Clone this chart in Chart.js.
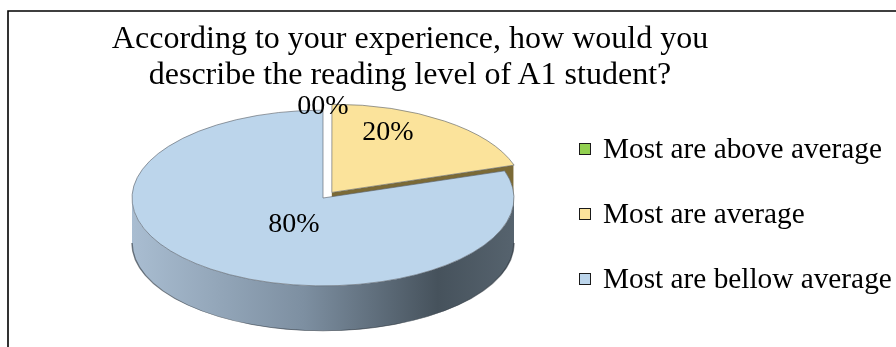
<!DOCTYPE html>
<html>
<head>
<meta charset="utf-8">
<script src="https://cdn.jsdelivr.net/npm/chart.js@4.4.1/dist/chart.umd.min.js"></script>
<style>
  html, body { margin: 0; padding: 0; background: #fff; }
  #stage { position: relative; width: 896px; height: 347px; overflow: hidden; font-family: "Liberation Serif", "Times New Roman", serif; color: #000; }
  #stage canvas { position: absolute; left: 0; top: 0; }
  #title { position: absolute; left: 0; top: 19px; width: 820px; text-align: center; font-size: 32px; line-height: 36px; white-space: nowrap; }
  .legend-item { position: absolute; left: 579px; height: 28px; font-size: 29.3px; line-height: 28px; white-space: nowrap; }
  .legend-box { position: absolute; left: 0; top: 8.5px; width: 10px; height: 10px; border: 1.5px solid #1a1a1a; }
  .legend-text { position: absolute; left: 24px; top: 0; }
</style>
</head>
<body>
<div id="stage">
  <canvas id="myChart" width="896" height="347"></canvas>
  <div id="title"></div>
  <div id="legend"></div>
</div>
<script>
// datos del grafico
const titleLines = ["According to your experience, how would you", "describe the reading level of A1 student?"];
const categories = ["Most are above average", "Most are average", "Most are bellow average"];
const percentValues = [0, 20, 80];
const sliceColors = ["#92d050", "#fbe39b", "#bcd5eb"];
const explodeOffset = [0, 60, 0];

function pctLabel(v) {
  return String(v).padStart(2, "0") + "%";
}

// titulo y leyenda en html
document.querySelector("#title").innerHTML = titleLines.join("<br>");
const legendEl = document.querySelector("#legend");
categories.forEach((name, i) => {
  const item = document.createElement("div");
  item.className = "legend-item";
  item.style.top = (134 + i * 65) + "px";
  item.innerHTML = '<span class="legend-box" style="background:' + sliceColors[i] + '"></span>' +
    '<span class="legend-text">' + name + "</span>";
  legendEl.appendChild(item);
});

// desplazamiento de la porcion separada (igual que ArcElement)
function arcShift(arc) {
  const off = (arc.options.offset || 0) / 4;
  const half = (arc.startAngle + arc.endAngle) / 2;
  return [Math.cos(half) * off, Math.sin(half) * off];
}

/* ------------ plugin pie 3d ---------- */
const pie3d = {
  id: "pie3d",
  beforeDraw(chart) {
    const ctx = chart.ctx;
    ctx.save();
    ctx.strokeStyle = "#000";
    ctx.lineWidth = 1.6;
    ctx.beginPath();
    ctx.moveTo(8, chart.height);
    ctx.lineTo(8, 11);
    ctx.lineTo(chart.width, 11);
    ctx.stroke();
    ctx.restore();
  },
  beforeDatasetsDraw(chart, args, opts) {
    const ctx = chart.ctx;
    const arcs = chart.getDatasetMeta(0).data;
    const cx = arcs[0].x;
    const cy = arcs[0].y;
    const depth = opts.depth / opts.tilt;
    ctx.save();
    ctx.translate(cx, cy);
    ctx.scale(1, opts.tilt);
    ctx.translate(-cx, -cy);

    // caras de corte
    arcs.forEach((arc, i) => {
      const s = arc.startAngle, e = arc.endAngle, R = arc.outerRadius;
      if (e - s <= 0) return;
      const [tx, ty] = arcShift(arc);
      [[s, -1], [e, 1]].forEach(([a, side]) => {
        const ny = side > 0 ? Math.cos(a) : -Math.cos(a);
        if (ny <= 0.01) return;
        const x0 = cx + tx, y0 = cy + ty;
        const x1 = x0 + Math.cos(a) * R, y1 = y0 + Math.sin(a) * R;
        ctx.beginPath();
        ctx.moveTo(x0, y0);
        ctx.lineTo(x1, y1);
        ctx.lineTo(x1, y1 + depth);
        ctx.lineTo(x0, y0 + depth);
        ctx.closePath();
        ctx.fillStyle = opts.cutColors[i];
        ctx.fill();
      });
    });

    // pared exterior (solo la mitad de adelante)
    arcs.forEach((arc, i) => {
      const s = arc.startAngle, e = arc.endAngle, R = arc.outerRadius;
      if (e - s <= 0) return;
      const [tx, ty] = arcShift(arc);
      [-2 * Math.PI, 0, 2 * Math.PI].forEach((k) => {
        const a0 = Math.max(s, k), a1 = Math.min(e, Math.PI + k);
        if (a1 <= a0) return;
        const x0 = cx + tx, y0 = cy + ty;
        const grad = ctx.createLinearGradient(x0 - R, 0, x0 + R, 0);
        opts.wallStops[i].forEach(([p, c]) => grad.addColorStop(p, c));
        ctx.beginPath();
        ctx.arc(x0, y0, R, a0, a1);
        ctx.arc(x0, y0 + depth, R, a1, a0, true);
        ctx.closePath();
        ctx.fillStyle = grad;
        ctx.fill();
        ctx.beginPath();
        ctx.arc(x0, y0 + depth, R, a0, a1);
        ctx.strokeStyle = "rgba(40,48,56,0.6)";
        ctx.lineWidth = 1.5;
        ctx.stroke();
      });
    });
  },
  afterDatasetsDraw(chart, args, opts) {
    const ctx = chart.ctx;
    ctx.restore();
    const arcs = chart.getDatasetMeta(0).data;
    ctx.save();
    ctx.font = "28px 'Liberation Serif'";
    ctx.fillStyle = "#000";
    ctx.textAlign = "center";
    ctx.textBaseline = "middle";
    arcs.forEach((arc, i) => {
      const [tx, ty] = arcShift(arc);
      const mid = (arc.startAngle + arc.endAngle) / 2;
      const r = arc.outerRadius * opts.labelRadius[i];
      const x = arc.x + tx + Math.cos(mid) * r;
      const y = arc.y + (ty + Math.sin(mid) * r) * opts.tilt + opts.labelDy[i];
      ctx.fillText(pctLabel(percentValues[i]), x, y);
    });
    ctx.restore();
  },
};

function renderPie() {
  const ctx = document.querySelector("#myChart").getContext("2d");
  new Chart(ctx, {
    type: "pie",
    data: {
      labels: categories,
      datasets: [
        {
          data: percentValues,
          backgroundColor: sliceColors,
          borderColor: "rgba(90,96,104,0.85)",
          borderWidth: 1,
          offset: explodeOffset,
          clip: false,
        },
      ],
    },
    options: {
      responsive: false,
      animation: false,
      devicePixelRatio: 1,
      radius: 191,
      layout: { padding: { top: 49, bottom: 0, left: 0, right: 250 } },
      events: [],
      plugins: {
        legend: { display: false },
        title: { display: false },
        tooltip: { enabled: false },
        pie3d: {
          tilt: 0.46,
          depth: 45,
          labelRadius: [1.0, 0.5, 0.26],
          labelDy: [-3, -24, 8],
          cutColors: ["#5e8a30", "#7b6a36", "#7f93a7"],
          wallStops: [
            [[0, "#7fb24a"], [1, "#4a6e24"]],
            [[0, "#c9b46a"], [1, "#6e5e2e"]],
            [[0, "#a9bdd1"], [0.45, "#7d8fa1"], [0.8, "#46525c"], [1, "#56636e"]],
          ],
        },
      },
    },
    plugins: [pie3d],
  });
}
renderPie();
</script>
</body>
</html>
